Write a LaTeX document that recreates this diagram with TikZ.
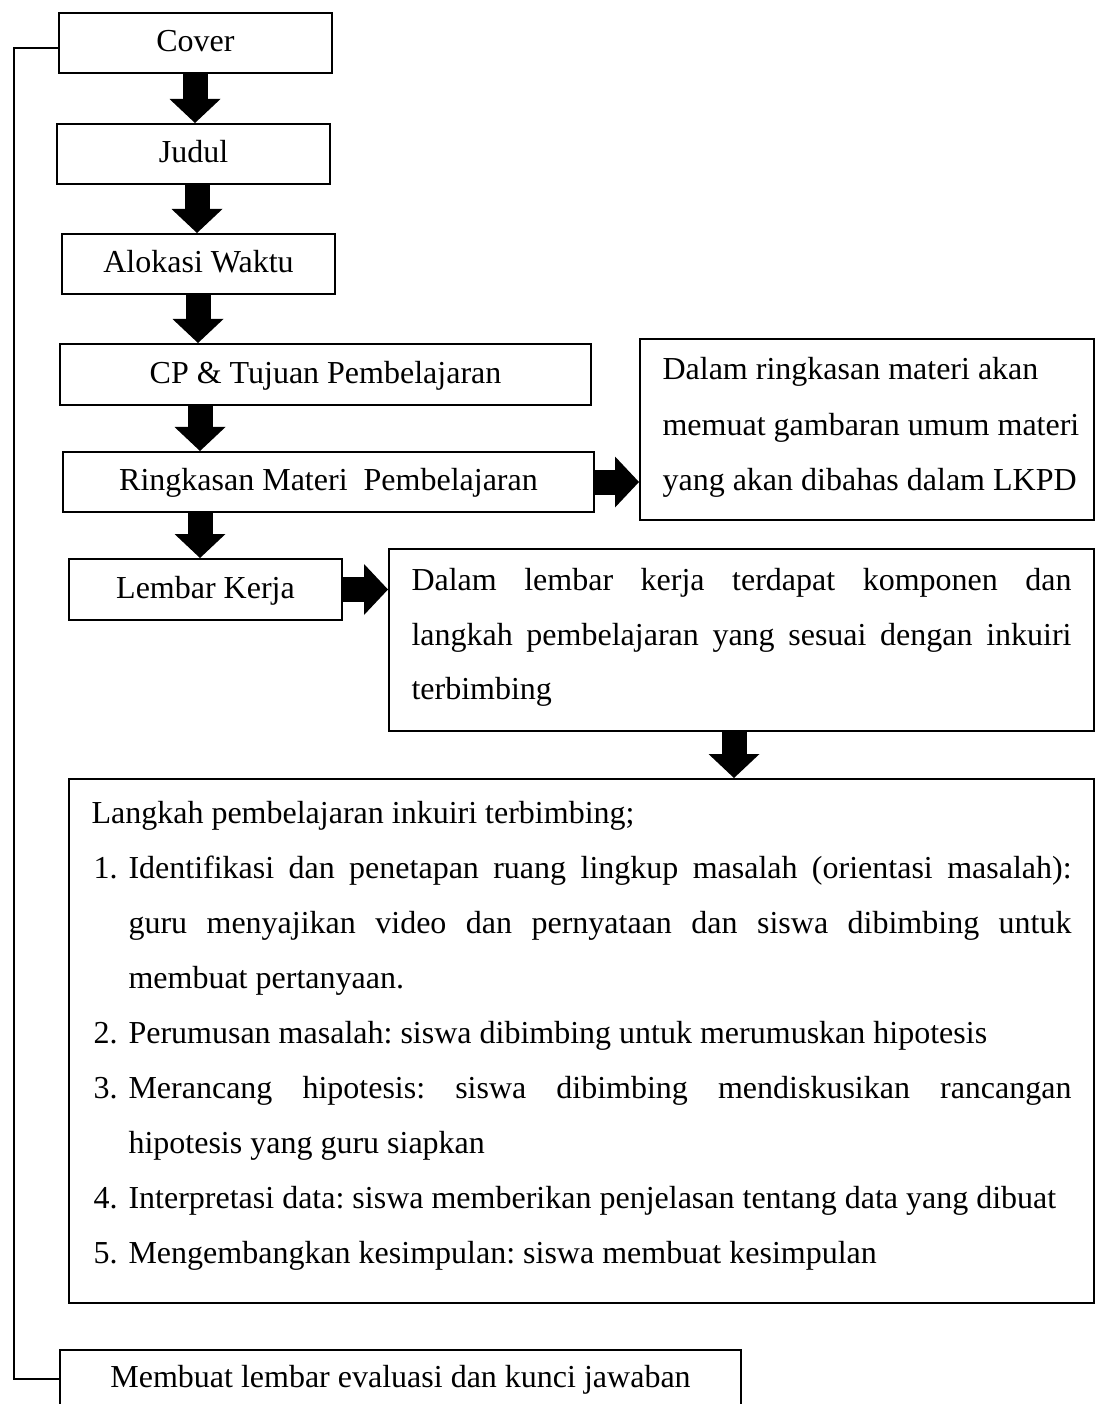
\documentclass[tikz,border=0pt]{standalone}
\usepackage{fontspec}
\setmainfont{Liberation Serif}
\usetikzlibrary{arrows.meta}
\frenchspacing
\newlength\px
\setlength\px{0.375pt}
\newcommand\jline[2]{\makebox[#1\px][s]{#2}}
\begin{document}
\frenchspacing
\begin{tikzpicture}[x=0.375pt,y=-0.375pt,
  font=\fontsize{12pt}{14pt}\selectfont\frenchspacing,
  box/.style={draw, line width=0.75pt, inner sep=0pt, text height=0.66em, text depth=0pt},
  blk/.style={line width=9.375pt, -{Triangle[width=19.125pt,length=9pt,line width=0pt]}},
  txt/.style={anchor=base west, inner sep=0pt},
  conn/.style={line width=0.75pt}]
\useasboundingbox (0,0) rectangle (1098,1404);

% boxes
\node[box, minimum width=273\px, minimum height=60\px] (cover) at (195.5,43) {Cover};
\node[box, minimum width=273\px, minimum height=60\px] (judul) at (193.5,154) {Judul};
\node[box, minimum width=273\px, minimum height=60\px] (alok) at (198.5,264) {Alokasi Waktu};
\node[box, minimum width=531\px, minimum height=61\px] (cp) at (325.5,374.5) {CP \& Tujuan Pembelajaran};
\node[box, minimum width=531\px, minimum height=60\px] (ring) at (328.5,482) {Ringkasan Materi\ \ Pembelajaran};
\node[box, minimum width=273\px, minimum height=61\px] (lk) at (205.5,589.5) {Lembar Kerja};
\node[box, minimum width=454\px, minimum height=181\px] (rb) at (867,429.5) {};
\node[box, minimum width=705\px, minimum height=182\px] (lkd) at (741.5,640) {};
\node[box, minimum width=1025\px, minimum height=524\px] (big) at (581.5,1041) {};
\node[box, minimum width=681\px, minimum height=58\px] (bot) at (400.5,1379) {Membuat lembar evaluasi dan kunci jawaban};

% texts of the right box
\node[txt] (rb1) at (662,380) {Dalam ringkasan materi akan};
\node[txt] (rb2) at (662,435) {memuat gambaran umum materi};
\node[txt] (rb3) at (662,490) {yang akan dibahas dalam LKPD};

% texts of the worksheet box
\node[txt] (lkd1) at (411,590) {\jline{660}{Dalam lembar kerja terdapat komponen dan}};
\node[txt] (lkd2) at (411,645) {\jline{660}{langkah pembelajaran yang sesuai dengan inkuiri}};
\node[txt] (lkd3) at (411,699) {terbimbing};

% texts of the big box
\node[txt] (b0) at (91,823) {Langkah pembelajaran inkuiri terbimbing;};
\node[txt] (n1) at (93,878.1) {1.};
\node[txt] (b1a) at (128,878.1) {\jline{943}{Identifikasi dan penetapan ruang lingkup masalah (orientasi masalah):}};
\node[txt] (b1b) at (128,933.2) {\jline{943}{guru menyajikan video dan pernyataan dan siswa dibimbing untuk}};
\node[txt] (b1c) at (128,988.3) {membuat pertanyaan.};
\node[txt] (n2) at (93,1043.4) {2.};
\node[txt] (b2) at (128,1043.4) {Perumusan masalah: siswa dibimbing untuk merumuskan hipotesis};
\node[txt] (n3) at (93,1098.5) {3.};
\node[txt] (b3a) at (128,1098.5) {\jline{943}{Merancang hipotesis: siswa dibimbing mendiskusikan rancangan}};
\node[txt] (b3b) at (128,1153.6) {hipotesis yang guru siapkan};
\node[txt] (n4) at (93,1208.7) {4.};
\node[txt] (b4) at (128,1208.7) {Interpretasi data: siswa memberikan penjelasan tentang data yang dibuat};
\node[txt] (n5) at (93,1263.8) {5.};
\node[txt] (b5) at (128,1263.8) {Mengembangkan kesimpulan: siswa membuat kesimpulan};

% arrow axes
\coordinate (a1) at (195,0);
\coordinate (a2) at (197,0);
\coordinate (a3) at (198,0);
\coordinate (a4) at (200,0);
\coordinate (a5) at (200,0);
\coordinate (a6) at (734,0);

% block arrows
\draw[blk] (cover.south -| a1) -- (judul.north -| a1);
\draw[blk] (judul.south -| a2) -- (alok.north -| a2);
\draw[blk] (alok.south -| a3) -- (cp.north -| a3);
\draw[blk] (cp.south -| a4) -- (ring.north -| a4);
\draw[blk] (ring.south -| a5) -- (lk.north -| a5);
\draw[blk] (ring.east) -- (ring.east -| rb.west);
\draw[blk] (lk.east) -- (lk.east -| lkd.west);
\draw[blk] (lkd.south -| a6) -- (big.north -| a6);

% return line
\coordinate (lc) at (14,0);
\draw[conn] ([yshift=-1.9pt]cover.west) -- ([yshift=-1.9pt]cover.west -| lc) |- (bot.west);
\end{tikzpicture}
\end{document}
